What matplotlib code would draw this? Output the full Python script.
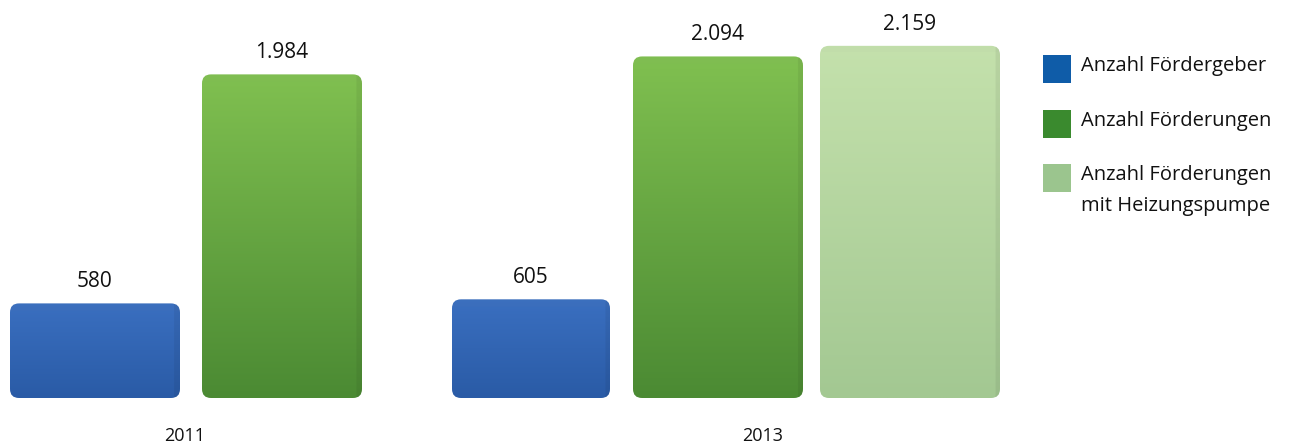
import numpy as np
import matplotlib.pyplot as plt
from matplotlib.patches import FancyBboxPatch, Rectangle
from matplotlib.colors import to_rgb

# data
years = ['2011', '2013']
series = ['Anzahl Fördergeber', 'Anzahl Förderungen',
          'Anzahl Förderungen\nmit Heizungspumpe']
values_2011 = [580, 1984]
values_2013 = [605, 2094, 2159]

# layout (x in axis units, 1 unit ~ 100 px)
pos_2011 = [0.95, 2.82]
width_2011 = [1.70, 1.60]
pos_2013 = [5.31, 7.18, 9.10]
width_2013 = [1.58, 1.70, 1.80]
year_pos = [1.85, 7.63]
y_top = 2440

# top colour, bottom colour, legend colour
styles = [
    ('#3a6fc0', '#2a5ba6', '#0f5ca8'),
    ('#80c050', '#4b8a33', '#3a8a2e'),
    ('#c4e1ac', '#a3c892', '#9bc58e'),
]

plt.rcParams['font.family'] = ['Open Sans', 'DejaVu Sans']

fig = plt.figure(figsize=(12.98, 4.43), dpi=100)
ax = fig.add_axes([0, 45 / 443, 1030 / 1298, 398 / 443])
ax.set_xlim(0, 10.30)
ax.set_ylim(0, y_top)
for s in ax.spines.values():
    s.set_visible(False)
ax.set_yticks([])
ax.set_xticks(year_pos)
ax.set_xticklabels(years, fontsize=13, color='#111111')
ax.tick_params(axis='x', length=0, pad=21)

bars = []
bars += list(ax.bar(pos_2011, values_2011, width=width_2011, color='none'))
bars += list(ax.bar(pos_2013, values_2013, width=width_2013, color='none'))
bar_styles = [styles[0], styles[1], styles[0], styles[1], styles[2]]
bar_values = values_2011 + values_2013

# units per pixel for rounding corners
x_per_px = 10.30 / 1030
y_per_px = y_top / 398

for bar, (top, bottom, _), v in zip(bars, bar_styles, bar_values):
    x0, w, h = bar.get_x(), bar.get_width(), bar.get_height()
    r = 9 * x_per_px
    patch = FancyBboxPatch((x0, 0), w, h,
                           boxstyle=f'round,pad=0,rounding_size={r}',
                           mutation_aspect=y_per_px / x_per_px,
                           facecolor='none', edgecolor='none', zorder=2)
    ax.add_patch(patch)

    # shading: vertical gradient, soft top bevel, darker right side
    ny, nx = 300, 200
    t = np.linspace(0, 1, ny)[:, None, None]
    c_top = np.array(to_rgb(top))
    c_bot = np.array(to_rgb(bottom))
    img = c_top * (1 - t) + c_bot * t
    img = np.repeat(img, nx, axis=1)
    h_px = h / y_per_px
    w_px = w / x_per_px
    band = max(1, int(ny * 8 / h_px))
    img[:band] = np.clip(img[:band] * 0.97 + 0.015, 0, 1)
    side = max(1, int(nx * 6 / w_px))
    img[:, -side:] *= 0.94
    ax.imshow(img, extent=[x0, x0 + w, 0, h], aspect='auto',
              zorder=3, clip_path=patch, interpolation='bilinear')

    label = f'{v:,}'.replace(',', '.')
    ax.annotate(label, (x0 + w / 2, h), xytext=(0, 8),
                textcoords='offset points', ha='center', va='bottom',
                fontsize=15, color='#111111')

ax.set_xlim(0, 10.30)
ax.set_ylim(0, y_top)

# legend
W, H = 1298, 443
rows = [69, 124, 178]
for (_, _, col), name, yc in zip(styles, series, rows):
    fig.add_artist(Rectangle((1043 / W, 1 - (yc + 14) / H), 28 / W, 28 / H,
                             transform=fig.transFigure, facecolor=col,
                             edgecolor='none'))
    fig.text(1081 / W, 1 - (yc - 13) / H, name, ha='left', va='top',
             fontsize=14.5, color='#111111', linespacing=1.75)

fig.savefig('out.png', dpi=100)
